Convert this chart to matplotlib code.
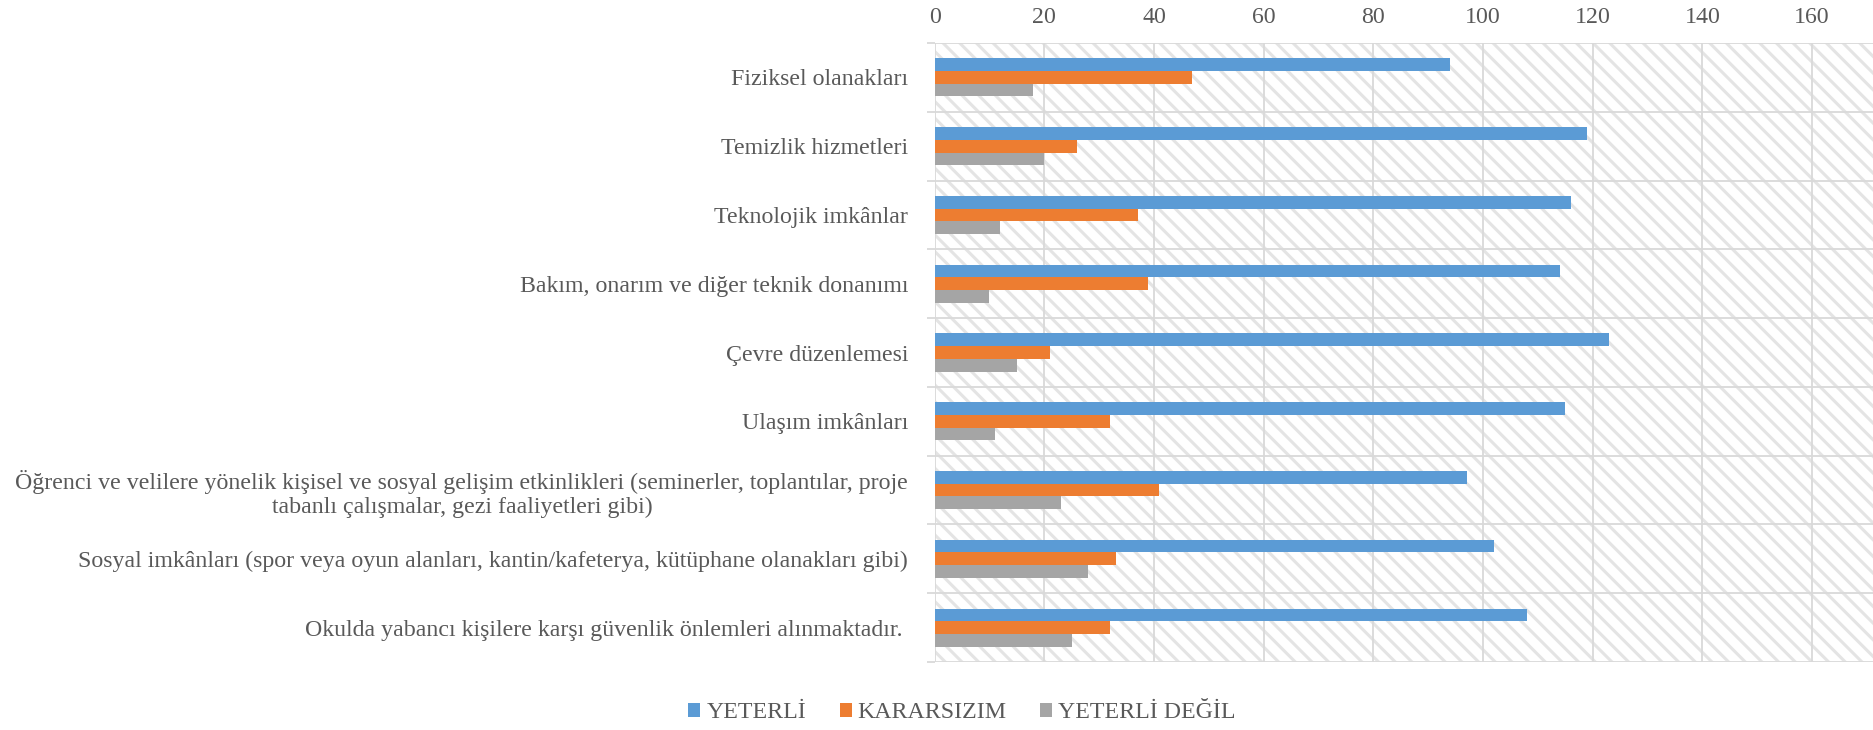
import matplotlib
matplotlib.use("Agg")
import matplotlib.pyplot as plt
import numpy as np
from matplotlib.patches import Rectangle

categories = [
    "Fiziksel olanakları",
    "Temizlik hizmetleri",
    "Teknolojik imkânlar",
    "Bakım, onarım ve diğer teknik donanımı",
    "Çevre düzenlemesi",
    "Ulaşım imkânları",
    "Öğrenci ve velilere yönelik kişisel ve sosyal gelişim etkinlikleri (seminerler, toplantılar, proje\ntabanlı çalışmalar, gezi faaliyetleri gibi)",
    "Sosyal imkânları (spor veya oyun alanları, kantin/kafeterya, kütüphane olanakları gibi)",
    "Okulda yabancı kişilere karşı güvenlik önlemleri alınmaktadır. ",
]
yeterli = [94, 119, 116, 114, 123, 115, 97, 102, 108]
kararsizim = [47, 26, 37, 39, 21, 32, 41, 33, 32]
yeterli_degil = [18, 20, 12, 10, 15, 11, 23, 28, 25]
series_names = ["YETERLİ", "KARARSIZIM", "YETERLİ DEĞİL"]
colors = ["#5B9BD5", "#ED7D31", "#A5A5A5"]
xticks = [0, 20, 40, 60, 80, 100, 120, 140, 160]

plt.rcParams['font.family'] = ['Liberation Serif', 'DejaVu Serif']
plt.rcParams['hatch.linewidth'] = 2.2
text_color = "#595959"
grid_color = "#D9D9D9"
fs = 17.2

fig = plt.figure(figsize=(18.74, 7.30), dpi=100)
ax = fig.add_axes([934.6 / 1874, 1 - 662 / 730, (1874 - 934.6) / 1874, (662 - 43) / 730])

n = len(categories)
ypos = np.arange(n)
h = 0.185
for i, (vals, name, c) in enumerate(zip([yeterli, kararsizim, yeterli_degil], series_names, colors)):
    ax.barh(ypos + (i - 1) * h, vals, height=h, color=c, label=name, zorder=3)

ax.set_ylim(n - 0.5, -0.5)
ax.set_xlim(0, 171.3)

# hatched background
bg = Rectangle((0, 0), 1, 1, transform=ax.transAxes, facecolor="white",
               edgecolor="#E4E4E4", hatch="\\\\", linewidth=0, zorder=0)
ax.add_patch(bg)

ax.set_xticks(xticks)
ax.xaxis.tick_top()
ax.tick_params(axis='x', length=0, pad=11, labelsize=fs, labelcolor=text_color)
ax.set_yticks(ypos)
ax.set_yticklabels(categories, fontsize=fs, color=text_color, multialignment='center')
ax.set_yticks(np.arange(n + 1) - 0.5, minor=True)
ax.tick_params(axis='y', which='major', length=0, pad=19)
ax.tick_params(axis='y', which='minor', length=6, width=1.3, color=grid_color)
ax.grid(axis='x', color=grid_color, linewidth=1.3, zorder=1)
ax.grid(axis='y', which='minor', color=grid_color, linewidth=1.3, zorder=1)
ax.set_axisbelow(True)
for s in ax.spines.values():
    s.set_visible(False)

leg = fig.legend(loc='center', bbox_to_anchor=(962 / 1874, 1 - 713 / 730), ncol=3,
                 frameon=False, fontsize=fs, handlelength=0.5, handleheight=0.5,
                 handletextpad=0.25, columnspacing=1.4)
for t in leg.get_texts():
    t.set_color(text_color)

fig.savefig("out.png", dpi=100)
